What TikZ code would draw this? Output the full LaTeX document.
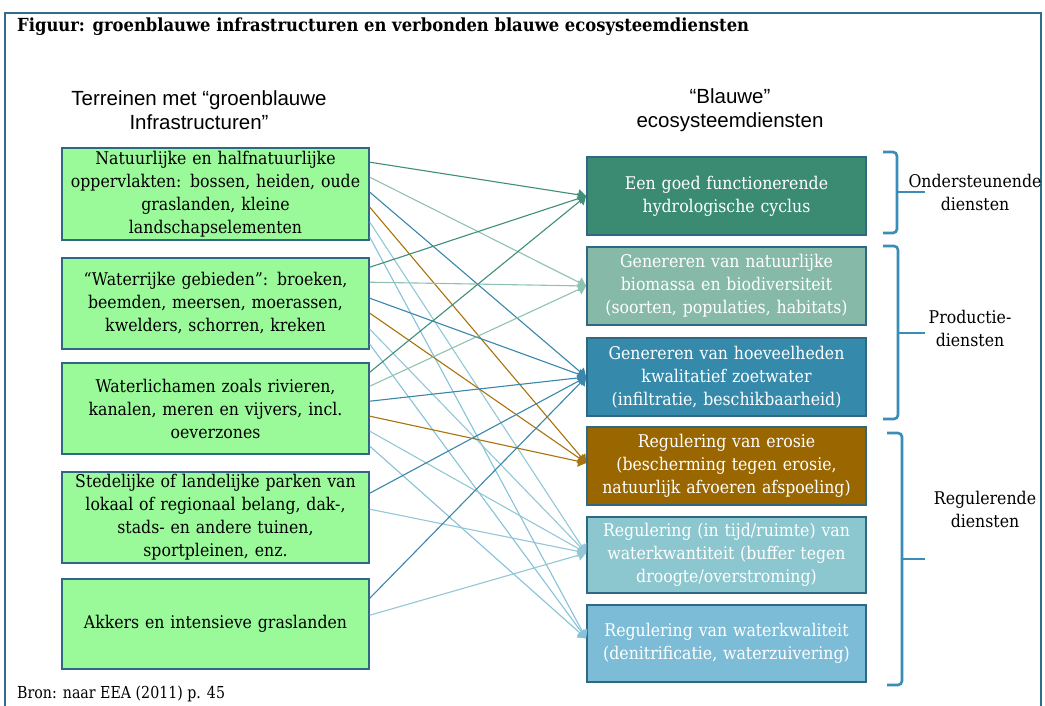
\documentclass[tikz,border=0pt]{standalone}
\usepackage{fontspec}
\setmainfont{DejaVu Serif}[FakeStretch=0.9]
\newfontfamily\titlefont{DejaVu Serif}[FakeStretch=0.91]
\newfontfamily\bronfont{DejaVu Serif}[FakeStretch=0.86]
\newfontfamily\headfont{Liberation Sans}
\usetikzlibrary{arrows.meta}
\definecolor{lgreen}{HTML}{9AFA9A}
\definecolor{bord}{HTML}{2E6883}
\definecolor{frm}{HTML}{2F6E8C}
\definecolor{rA}{HTML}{3B8B73}
\definecolor{rB}{HTML}{86B9A7}
\definecolor{rC}{HTML}{3589AB}
\definecolor{rD}{HTML}{996600}
\definecolor{rE}{HTML}{8CC6CE}
\definecolor{rF}{HTML}{7DBCD6}
\definecolor{cA}{HTML}{3F8F78}
\definecolor{cB}{HTML}{8FC2B1}
\definecolor{cC}{HTML}{3A86AC}
\definecolor{cD}{HTML}{A8730A}
\definecolor{cE}{HTML}{92C8D6}
\definecolor{cF}{HTML}{86C2D8}
\definecolor{brc}{HTML}{3A8DB4}
\newcommand\boxfont{\fontsize{17.5}{23}\selectfont}
\begin{document}
\begin{tikzpicture}[x=1pt,y=-1pt,
  lbox/.style={draw=bord, line width=1.6pt, fill=lgreen, minimum width=307pt,
    minimum height=91pt, text width=302pt, align=center, inner sep=0pt, font=\boxfont},
  rbox/.style={draw=bord, line width=1.6pt, minimum width=279pt,
    minimum height=78pt, text width=276pt, align=center, inner sep=0pt, text=white, font=\boxfont},
  conn/.style={line width=1.1pt, -{Triangle[length=8pt,width=11pt]}},
  brace/.style={draw=brc, line width=2.6pt, rounded corners=4pt},
  grp/.style={align=center, font=\boxfont, inner sep=0pt},
  hdr/.style={align=center, font=\headfont\fontsize{20.5}{24.5}\selectfont, inner sep=0pt}]
\useasboundingbox (0,0) rectangle (1045,706);
\clip (0,0) rectangle (1045,706);
\fill[white] (0,0) rectangle (1045,706);
% frame
\draw[frm, line width=1.6pt] (5,730) -- (5,13) -- (1041,13) -- (1041,730);
\node[anchor=base west, inner sep=0pt, font=\titlefont\bfseries\fontsize{18}{22}\selectfont] (title) at (17,32)
  {Figuur: groenblauwe infrastructuren en verbonden blauwe ecosysteemdiensten};
% headers
\node[hdr] (hl) at (199,110) {Terreinen met “groenblauwe\\Infrastructuren”};
\node[hdr] (hr) at (730,110) {“Blauwe”\\ecosysteemdiensten};
% left boxes
\node[lbox, minimum height=92pt] (L1) at (215.5,194) {Natuurlijke en halfnatuurlijke\\oppervlakten: bossen, heiden, oude\\graslanden, kleine\\landschapselementen};
\node[lbox] (L2) at (215.5,303.5) {“Waterrijke gebieden”: broeken,\\beemden, meersen, moerassen,\\kwelders, schorren, kreken};
\node[lbox] (L3) at (215.5,408.5) {Waterlichamen zoals rivieren,\\kanalen, meren en vijvers, incl.\\oeverzones};
\node[lbox] (L4) at (215.5,517.5) {Stedelijke of landelijke parken van\\lokaal of regionaal belang, dak-,\\stads- en andere tuinen,\\sportpleinen, enz.};
\node[lbox, minimum height=90pt] (L5) at (215.5,624) {Akkers en intensieve graslanden};
% right boxes
\node[rbox, fill=rA] (R1) at (726.5,196) {Een goed functionerende\\hydrologische cyclus};
\node[rbox, fill=rB] (R2) at (726.5,286) {Genereren van natuurlijke\\biomassa en biodiversiteit\\(soorten, populaties, habitats)};
\node[rbox, fill=rC] (R3) at (726.5,377) {Genereren van hoeveelheden\\kwalitatief zoetwater\\(infiltratie, beschikbaarheid)};
\node[rbox, fill=rD] (R4) at (726.5,466) {Regulering van erosie\\(bescherming tegen erosie,\\natuurlijk afvoeren afspoeling)};
\node[rbox, fill=rE, minimum height=76pt] (R5) at (726.5,555) {Regulering (in tijd/ruimte) van\\waterkwantiteit (buffer tegen\\droogte/overstroming)};
\node[rbox, fill=rF, minimum height=77pt] (R6) at (726.5,643.5) {Regulering van waterkwaliteit\\(denitrificatie, waterzuivering)};
% connectors
\foreach \s/\d/\o/\dy/\c in {
  L1/R1/15/0/cA, L1/R2/30/0/cB, L1/R3/45/0/cC, L1/R4/60/3/cD, L1/R5/75/2/cE, L1/R6/90/5/cF,
  L2/R1/10/0/cA, L2/R2/25/0/cB, L2/R3/41/0/cC, L2/R4/56/3/cD, L2/R5/72/2/cE, L2/R6/87/5/cF,
  L3/R1/10/0/cA, L3/R2/24/0/cB, L3/R3/39/0/cC, L3/R4/54/3/cD, L3/R5/69/2/cE, L3/R6/84/5/cF,
  L4/R3/22/0/cC, L4/R5/38/2/cE,
  L5/R3/20/0/cC, L5/R5/37/2/cE}
  \draw[conn, \c] ([yshift=-\o pt]\s.north east) -- ([yshift=\dy pt]\d.west);
% braces
\draw[brace] (883,152) -- (897,152) -- (897,233) -- (883,233);
\draw[brc, line width=2.6pt] (897,192) -- (925,192);
\draw[brace] (883,246) -- (898,246) -- (898,419) -- (883,419);
\draw[brc, line width=2.6pt] (898,333) -- (925,333);
\draw[brace] (887,433) -- (902,433) -- (902,685) -- (887,685);
\draw[brc, line width=2.6pt] (902,559) -- (925,559);
% group labels
\node[grp] (g1) at (975,192.5) {Ondersteunende\\diensten};
\node[grp] (g2) at (970,328.5) {Productie-\\diensten};
\node[grp] (g3) at (985,509) {Regulerende\\diensten};
% source
\node[anchor=base west, inner sep=0pt, font=\bronfont\fontsize{16.5}{19}\selectfont] (bron) at (17,698) {Bron: naar EEA (2011) p. 45};
\end{tikzpicture}
\end{document}
